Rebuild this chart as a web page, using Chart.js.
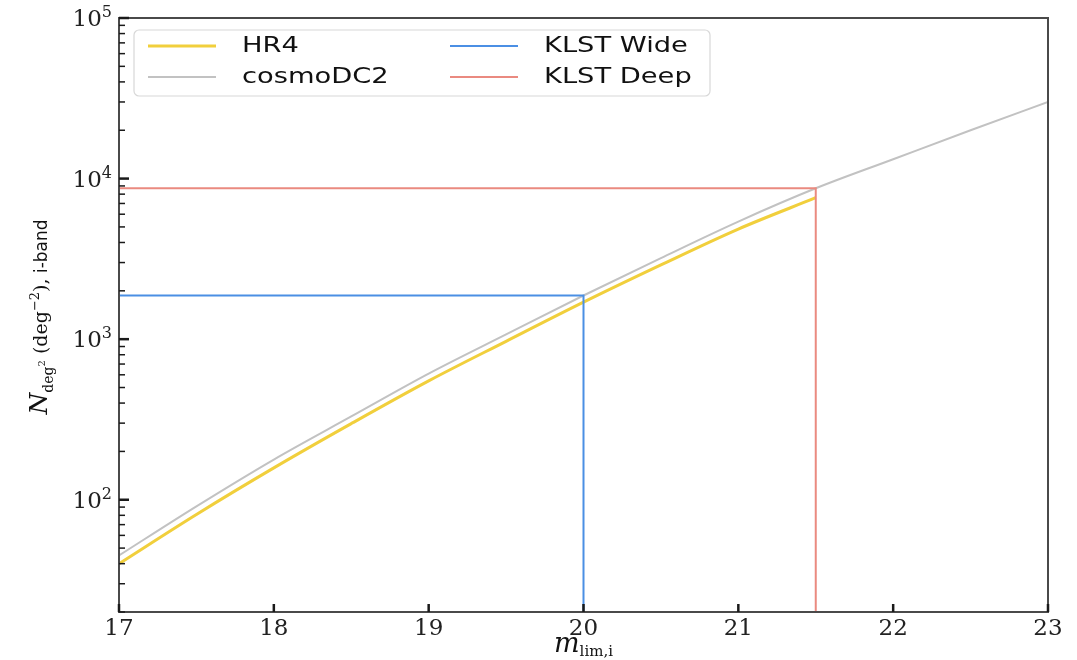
<!DOCTYPE html>
<html>
<head>
<meta charset="utf-8">
<script src="https://cdn.jsdelivr.net/npm/chart.js@4.4.0/dist/chart.umd.min.js"></script>
<style>
body { margin: 0; background: #fff; }
#wrap { width: 1077px; height: 660px; }
</style>
</head>
<body>
<div id="wrap"><canvas id="grafico"></canvas></div>
<script>
// i-band limiting magnitude grid and galaxy counts per deg^2
const magnitudes = [17, 17.5, 18, 18.5, 19, 19.5, 20, 20.5, 21, 21.5, 22, 22.5, 23];
const cosmoDC2Counts = [45, 91, 178, 330, 610, 1070, 1870, 3200, 5400, 8700, 13200, 20000, 30000];
const hr4Counts = [40, 81, 158, 298, 550, 970, 1700, 2900, 4850, 7600];
const wideLimit = 20;
const wideDensity = 1870;
const deepLimit = 21.5;
const deepDensity = 8700;
const xTicks = [17, 18, 19, 20, 21, 22, 23];
const yDecades = [100, 1000, 10000, 100000];
const yMin = 20;
const yMax = 100000;

function pts(xs, ys) {
    return ys.map(function (y, i) { return { x: xs[i], y: y }; });
}

function drawRich(ctx, parts, x, y, align) {
    let total = 0;
    parts.forEach(function (p) { ctx.font = p.font; total += ctx.measureText(p.text).width; });
    let cx = align === 'right' ? x - total : x - total / 2;
    parts.forEach(function (p) {
        ctx.font = p.font;
        ctx.fillText(p.text, cx, y + (p.dy || 0));
        cx += ctx.measureText(p.text).width;
    });
}

const framePlugin = {
    id: 'frame',
    afterDraw: function (chart) {
        const ctx = chart.ctx;
        const a = chart.chartArea;
        const xs = chart.scales.x;
        const ys = chart.scales.y;
        ctx.save();
        // axes box
        ctx.strokeStyle = '#4a4a4a';
        ctx.lineWidth = 2;
        ctx.strokeRect(a.left, a.top, a.right - a.left, a.bottom - a.top);
        // inward ticks
        ctx.strokeStyle = '#1a1a1a';
        xTicks.forEach(function (v) {
            const px = xs.getPixelForValue(v);
            ctx.lineWidth = 2.5;
            ctx.beginPath(); ctx.moveTo(px, a.bottom); ctx.lineTo(px, a.bottom - 8); ctx.stroke();
        });
        for (let d = 10; d <= yMax; d *= 10) {
            for (let k = 1; k <= 9; k++) {
                const v = d * k;
                if (v < yMin || v > yMax) continue;
                const py = ys.getPixelForValue(v);
                const major = k === 1;
                ctx.lineWidth = major ? 2.5 : 1.5;
                ctx.beginPath(); ctx.moveTo(a.left, py); ctx.lineTo(a.left + (major ? 10 : 6), py); ctx.stroke();
            }
        }
        // y tick labels 10^n
        ctx.fillStyle = '#222';
        ctx.textBaseline = 'alphabetic';
        yDecades.forEach(function (v) {
            const py = ys.getPixelForValue(v);
            drawRich(ctx, [
                { text: '10', font: '23px "DejaVu Serif"' },
                { text: String(Math.round(Math.log10(v))), font: '16px "DejaVu Serif"', dy: -9 }
            ], a.left - 7, py + 8, 'right');
        });
        // axis titles
        ctx.fillStyle = '#111';
        drawRich(ctx, [
            { text: 'm', font: 'italic 27px "DejaVu Serif"' },
            { text: 'lim,i', font: '15px "DejaVu Serif"', dy: 4 }
        ], (a.left + a.right) / 2, 652);
        ctx.save();
        ctx.translate(47, 317);
        ctx.rotate(-Math.PI / 2);
        drawRich(ctx, [
            { text: 'N', font: 'italic 25px "DejaVu Serif"' },
            { text: 'deg', font: '14px "DejaVu Serif"', dy: 6 },
            { text: '2', font: '10px "DejaVu Serif"', dy: -2 },
            { text: ' (deg', font: '19px "DejaVu Serif"' },
            { text: '−2', font: '13px "DejaVu Serif"', dy: -8 },
            { text: '),', font: '19px "DejaVu Serif"' },
            { text: ' i-band', font: '17px "DejaVu Sans"' }
        ], 0, 0);
        ctx.restore();
        // legend
        const lx = 134, ly = 30, lw = 576, lh = 66;
        ctx.fillStyle = 'rgba(255,255,255,0.85)';
        ctx.strokeStyle = '#d8d8d8';
        ctx.lineWidth = 1.2;
        ctx.beginPath();
        ctx.roundRect(lx, ly, lw, lh, 5);
        ctx.fill(); ctx.stroke();
        const entries = [
            { ds: 0, sx: 148, tx: 242, y: 46 },
            { ds: 1, sx: 148, tx: 242, y: 77 },
            { ds: 2, sx: 450, tx: 544, y: 46 },
            { ds: 3, sx: 450, tx: 544, y: 77 }
        ];
        entries.forEach(function (e) {
            const ds = chart.data.datasets[e.ds];
            ctx.strokeStyle = ds.borderColor;
            ctx.lineWidth = ds.borderWidth;
            ctx.beginPath(); ctx.moveTo(e.sx, e.y); ctx.lineTo(e.sx + 68, e.y); ctx.stroke();
            ctx.save();
            ctx.translate(e.tx, e.y);
            ctx.scale(1.3, 1);
            ctx.fillStyle = '#111';
            ctx.font = '21px "DejaVu Sans"';
            ctx.textBaseline = 'middle';
            ctx.fillText(ds.label, 0, 1);
            ctx.restore();
        });
        ctx.restore();
    }
};

const ctxGrafico = document.getElementById('grafico').getContext('2d');
const grafico = new Chart(ctxGrafico, {
    type: 'line',
    data: {
        datasets: [{
            label: 'HR4',
            data: pts(magnitudes, hr4Counts),
            borderColor: '#f1cf3c',
            borderWidth: 3,
            order: 3
        }, {
            label: 'cosmoDC2',
            data: pts(magnitudes, cosmoDC2Counts),
            borderColor: '#c2c2c2',
            borderWidth: 2,
            order: 2
        }, {
            label: 'KLST Wide',
            data: [{ x: 17, y: wideDensity }, { x: wideLimit, y: wideDensity }, { x: wideLimit, y: yMin }],
            borderColor: '#4b8fe4',
            borderWidth: 2,
            order: 1
        }, {
            label: 'KLST Deep',
            data: [{ x: 17, y: deepDensity }, { x: deepLimit, y: deepDensity }, { x: deepLimit, y: yMin }],
            borderColor: '#ea8a80',
            borderWidth: 2,
            order: 0
        }]
    },
    options: {
        responsive: true,
        maintainAspectRatio: false,
        animation: false,
        layout: { padding: { top: 18, right: 29, left: 0, bottom: 0 } },
        elements: {
            point: { radius: 0 },
            line: { tension: 0, cubicInterpolationMode: 'monotone', fill: false }
        },
        plugins: {
            legend: { display: false },
            tooltip: { enabled: false }
        },
        scales: {
            x: {
                type: 'linear',
                min: 17,
                max: 23,
                grid: { display: false, drawTicks: false },
                border: { display: false },
                afterBuildTicks: function (s) { s.ticks = xTicks.map(function (v) { return { value: v }; }); },
                afterFit: function (s) { s.height = 48; },
                ticks: {
                    padding: 3,
                    color: '#222',
                    font: { family: 'DejaVu Serif', size: 23 },
                    callback: function (v) { return String(v); }
                }
            },
            y: {
                type: 'logarithmic',
                min: yMin,
                max: yMax,
                grid: { display: false, drawTicks: false },
                border: { display: false },
                afterBuildTicks: function (s) { s.ticks = yDecades.map(function (v) { return { value: v }; }); },
                afterFit: function (s) { s.width = 119; },
                ticks: { display: false }
            }
        }
    },
    plugins: [framePlugin]
});
</script>
</body>
</html>
